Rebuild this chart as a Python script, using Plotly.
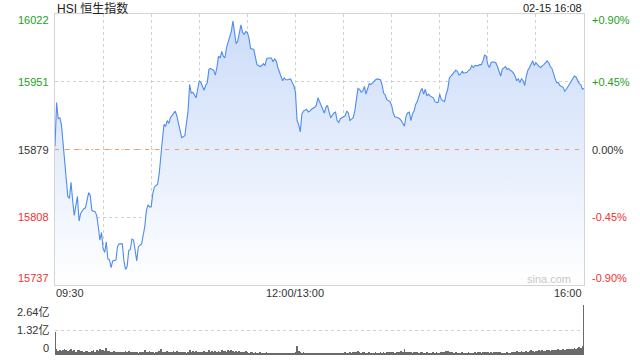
import plotly.graph_objects as go

# ---------------- data ----------------
prev_close = 15879.5
price_ticks = [16022, 15951, 15879, 15808, 15737]
pct_ticks = ["+0.90%", "+0.45%", "0.00%", "-0.45%", "-0.90%"]
time_labels = ["09:30", "12:00/13:00", "16:00"]
vol_ticks = ["2.64亿", "1.32亿", "0"]
vol_max = 2.64

times = [
    "09:30","09:31","09:32","09:33","09:34","09:35","09:36","09:38","09:39","09:40",
    "09:41","09:42","09:44","09:45","09:46","09:48","09:49","09:50","09:51","09:52",
    "09:53","09:55","09:56","09:57","09:58","09:59","10:00","10:01","10:02","10:03",
    "10:04","10:05","10:06","10:08","10:09","10:10","10:12","10:13","10:14","10:15",
    "10:16","10:17","10:18","10:19","10:21","10:22","10:23","10:24","10:26","10:27",
    "10:28","10:29","10:30","10:31","10:32","10:34","10:35","10:36","10:37","10:38",
    "10:39","10:40","10:41","10:42","10:44","10:45","10:46","10:47","10:49","10:50",
    "10:51","10:53","10:54","10:55","10:56","10:58","10:59","11:00","11:01","11:03",
    "11:04","11:05","11:06","11:07","11:09","11:10","11:11","11:12","11:13","11:14",
    "11:15","11:16","11:17","11:18","11:20","11:21","11:22","11:23","11:24","11:25",
    "11:26","11:27","11:28","11:29","11:30","11:31","11:32","11:34","11:35","11:36",
    "11:38","11:39","11:40","11:41","11:42","11:43","11:45","11:46","11:47","11:48",
    "11:49","11:50","11:52","11:53","11:54","11:55","11:57","11:58","11:59","12:00",
    "13:01","13:02","13:03","13:04","13:05","13:07","13:08","13:09","13:10","13:12",
    "13:13","13:14","13:15","13:17","13:18","13:19","13:20","13:21","13:22","13:24",
    "13:25","13:26","13:27","13:28","13:29","13:31","13:32","13:33","13:34","13:36",
    "13:37","13:38","13:39","13:40","13:41","13:42","13:43","13:44","13:46","13:47",
    "13:49","13:50","13:51","13:53","13:54","13:55","13:56","13:57","13:59","14:00",
    "14:01","14:02","14:04","14:05","14:06","14:07","14:08","14:09","14:10","14:11",
    "14:12","14:13","14:14","14:15","14:16","14:18","14:19","14:20","14:21","14:22",
    "14:23","14:24","14:26","14:27","14:28","14:29","14:30","14:31","14:33","14:34",
    "14:35","14:36","14:37","14:39","14:40","14:41","14:42","14:43","14:44","14:45",
    "14:47","14:48","14:49","14:50","14:51","14:52","14:54","14:55","14:56","14:57",
    "14:58","14:59","15:00","15:01","15:02","15:03","15:05","15:06","15:07","15:08",
    "15:09","15:10","15:11","15:12","15:13","15:14","15:15","15:16","15:17","15:18",
    "15:19","15:20","15:21","15:22","15:23","15:24","15:25","15:26","15:27","15:28",
    "15:29","15:30","15:32","15:33","15:34","15:35","15:37","15:38","15:39","15:40",
    "15:42","15:43","15:44","15:45","15:47","15:48","15:49","15:50","15:51","15:52",
    "15:54","15:55","15:56","15:57","15:58","15:59","16:00",
]
prices = [
    15883,15929,15912,15913,15906,15885,15868,15830,15828,15845,
    15826,15810,15830,15804,15812,15817,15818,15826,15834,15831,
    15815,15814,15810,15798,15784,15792,15775,15771,15782,15764,
    15763,15755,15762,15763,15777,15780,15780,15762,15753,15756,
    15773,15774,15785,15784,15762,15777,15779,15780,15798,15815,
    15821,15819,15819,15833,15840,15843,15854,15875,15890,15906,
    15904,15910,15907,15913,15918,15920,15915,15906,15892,15893,
    15894,15920,15948,15939,15940,15934,15943,15952,15950,15942,
    15947,15950,15964,15965,15963,15958,15966,15978,15976,15983,
    15978,15976,15987,15993,16004,16015,16001,15991,15994,16004,
    16011,16003,16001,16004,16003,15997,15986,15985,15976,15969,
    15967,15968,15970,15968,15975,15976,15976,15972,15975,15973,
    15966,15961,15952,15955,15953,15953,15954,15950,15947,15940,
    15910,15906,15898,15917,15920,15922,15919,15920,15922,15924,
    15926,15934,15930,15921,15918,15924,15926,15919,15913,15918,
    15919,15910,15908,15912,15913,15915,15920,15918,15910,15913,
    15920,15933,15944,15943,15940,15941,15946,15938,15949,15948,
    15952,15953,15954,15953,15948,15939,15937,15932,15930,15926,
    15918,15914,15913,15912,15910,15907,15904,15915,15918,15919,
    15910,15917,15920,15927,15930,15941,15944,15938,15943,15936,
    15938,15936,15934,15930,15929,15929,15938,15932,15930,15938,
    15943,15955,15957,15961,15963,15962,15958,15959,15962,15960,
    15961,15963,15964,15968,15966,15968,15968,15969,15969,15973,
    15979,15978,15969,15966,15971,15972,15971,15967,15962,15957,
    15964,15966,15967,15964,15965,15963,15962,15960,15957,15952,
    15954,15950,15954,15952,15947,15957,15963,15966,15969,15973,
    15968,15971,15967,15966,15968,15969,15973,15971,15967,15965,
    15954,15950,15950,15947,15945,15941,15943,15946,15948,15952,
    15957,15956,15952,15949,15948,15943,15944,
]

# volume per trading minute (亿), 09:30..12:00 then 13:01..16:00
volumes = [
    1.20,0.30,0.22,0.28,0.20,0.26,0.32,0.24,0.20,0.28,
    0.30,0.22,0.26,0.18,0.24,0.28,0.20,0.22,0.18,0.20,
    0.22,0.18,0.16,0.20,0.24,0.18,0.28,0.22,0.30,0.26,
    0.24,0.20,0.36,0.22,0.20,0.18,0.16,0.20,0.14,0.18,
    0.16,0.14,0.18,0.15,0.20,0.16,0.22,0.14,0.16,0.18,
    0.14,0.16,0.12,0.18,0.16,0.14,0.26,0.18,0.16,0.20,
    0.14,0.16,0.12,0.15,0.18,0.22,0.30,0.16,0.18,0.14,
    0.20,0.16,0.14,0.18,0.22,0.16,0.20,0.14,0.18,0.16,
    0.14,0.18,0.12,0.16,0.26,0.14,0.20,0.18,0.22,0.16,
    0.14,0.18,0.16,0.20,0.14,0.18,0.24,0.16,0.20,0.18,
    0.22,0.16,0.20,0.18,0.24,0.20,0.22,0.18,0.26,0.20,
    0.24,0.22,0.18,0.20,0.16,0.22,0.18,0.14,0.16,0.20,
    0.18,0.12,0.14,0.16,0.12,0.14,0.10,0.12,0.14,0.10,
    0.12,0.10,0.14,0.12,0.10,0.12,0.08,0.10,0.12,0.10,
    0.08,0.10,0.12,0.08,0.10,0.09,0.11,0.08,0.10,0.12,
    0.14,
    0.50,0.22,0.16,0.12,0.14,0.10,0.12,0.10,0.08,0.10,
    0.12,0.10,0.08,0.10,0.12,0.09,0.10,0.08,0.12,0.10,
    0.10,0.12,0.08,0.10,0.09,0.11,0.08,0.10,0.12,0.10,
    0.14,0.10,0.12,0.16,0.12,0.14,0.18,0.16,0.20,0.14,
    0.12,0.16,0.14,0.12,0.10,0.14,0.12,0.10,0.12,0.14,
    0.12,0.10,0.14,0.12,0.16,0.12,0.14,0.18,0.14,0.16,
    0.14,0.12,0.16,0.18,0.14,0.22,0.16,0.30,0.14,0.18,
    0.16,0.14,0.12,0.16,0.18,0.14,0.12,0.16,0.14,0.12,
    0.10,0.14,0.12,0.10,0.12,0.16,0.12,0.14,0.10,0.12,
    0.14,0.18,0.16,0.22,0.20,0.18,0.14,0.16,0.12,0.14,
    0.12,0.10,0.12,0.14,0.10,0.12,0.10,0.14,0.12,0.10,
    0.12,0.14,0.12,0.16,0.14,0.12,0.14,0.16,0.18,0.14,
    0.12,0.14,0.12,0.16,0.14,0.18,0.16,0.14,0.12,0.10,
    0.12,0.14,0.10,0.12,0.14,0.16,0.18,0.20,0.16,0.18,
    0.20,0.16,0.18,0.22,0.18,0.20,0.24,0.20,0.18,0.22,
    0.20,0.24,0.22,0.26,0.22,0.20,0.24,0.28,0.22,0.26,
    0.24,0.28,0.26,0.30,0.26,0.28,0.32,0.26,0.30,0.34,
    0.30,0.34,0.32,0.36,0.34,0.38,0.40,0.36,0.48,2.90,
]


def slot(t):
    h, m = map(int, t.split(":"))
    mins = h * 60 + m
    if mins <= 12 * 60:
        return mins - (9 * 60 + 30)
    return 150 + mins - 13 * 60


xs = [slot(t) for t in times]
vx = list(range(len(volumes)))
total_slots = 330

# ---------------- layout helpers ----------------
W, H = 640, 360
def PX(x):
    return x / W
def PY(y):
    return 1 - y / H

FONT = "Arial, 'Liberation Sans', 'Noto Sans CJK SC', sans-serif"
GREEN = "#1e9e1e"
RED = "#f23030"
DARK = "#333333"
GRID = "#d2d2d2"

lo = prev_close * 0.991
hi = prev_close * 1.009

fig = go.Figure()
fig.add_trace(go.Scatter(
    x=xs, y=prices, mode="lines",
    line=dict(color="#4f8bf0", width=1.1),
    fill="tozeroy",
    fillgradient=dict(type="vertical",
                      colorscale=[[0, "rgba(255,255,255,1)"], [1, "rgba(202,219,249,1)"]],
                      start=lo, stop=hi),
    hoverinfo="skip", xaxis="x", yaxis="y", showlegend=False,
))
fig.add_trace(go.Bar(
    x=vx, y=volumes, marker=dict(color="#6a6a6a", line=dict(width=0)),
    width=0.45, xaxis="x2", yaxis="y2", showlegend=False, hoverinfo="skip",
))

grid_vals = [prev_close * 1.0045, prev_close, prev_close * 0.9955]

fig.update_layout(
    width=W, height=H, margin=dict(l=0, r=0, t=0, b=0),
    paper_bgcolor="white", plot_bgcolor="rgba(0,0,0,0)",
    font=dict(family=FONT, size=11, color=DARK),
    bargap=0,
    xaxis=dict(domain=[PX(55), PX(584)], range=[0, total_slots],
               tickvals=list(range(0, total_slots + 1, 30)), showticklabels=False,
               showgrid=True, gridcolor=GRID, griddash="dot", gridwidth=1,
               showline=True, linecolor="#d4d4d4", linewidth=1, mirror=True,
               zeroline=False, ticks=""),
    yaxis=dict(domain=[PY(285), PY(14)], range=[lo, hi],
               tickvals=grid_vals, showticklabels=False,
               showgrid=True, gridcolor=GRID, griddash="dot", gridwidth=1,
               showline=True, linecolor="#d4d4d4", linewidth=1, mirror=True,
               zeroline=False, ticks=""),
    xaxis2=dict(domain=[PX(55), PX(584)], range=[0, total_slots], anchor="y2",
                showticklabels=False, showgrid=False, zeroline=False, ticks=""),
    yaxis2=dict(domain=[PY(355), PY(305)], range=[0, vol_max], anchor="x2",
                tickvals=[vol_max / 2, vol_max], showticklabels=False,
                showgrid=True, gridcolor=GRID, griddash="dot", gridwidth=1,
                zeroline=False, ticks=""),
)

# previous close dashed line
fig.add_shape(type="line", xref="x", yref="y", x0=0, x1=total_slots,
              y0=prev_close, y1=prev_close,
              line=dict(color="#ee9a6a", width=1, dash="4px,6px"), layer="above")

ann = []
left_colors = [GREEN, GREEN, DARK, RED, RED]
shifts = [-6, 0, 0, 0, 7]
levels = [hi, prev_close * 1.0045, prev_close, prev_close * 0.9955, lo]
for lab, pct, c, s, lv in zip(price_ticks, pct_ticks, left_colors, shifts, levels):
    ann.append(dict(text=str(lab), x=PX(51), xref="paper", xanchor="right",
                    y=lv, yref="y", yanchor="middle", yshift=s, showarrow=False,
                    font=dict(color=c, size=11, family=FONT)))
    ann.append(dict(text=pct, x=PX(590), xref="paper", xanchor="left",
                    y=lv, yref="y", yanchor="middle", yshift=s, showarrow=False,
                    font=dict(color=c, size=11, family=FONT)))

# time labels
for lab, xv, anc in zip(time_labels, [0, 150, total_slots], ["left", "center", "right"]):
    ann.append(dict(text=lab, x=xv, xref="x", xanchor=anc, xshift=(-1 if anc == "left" else 0),
                    y=PY(293), yref="paper", yanchor="middle", showarrow=False,
                    font=dict(color=DARK, size=11, family=FONT)))

# volume labels
for lab, v, s in zip(vol_ticks, [vol_max, vol_max / 2, 0], [-7, 0, 7]):
    ann.append(dict(text=lab, x=PX(51), xref="paper", xanchor="right",
                    y=v, yref="y2", yanchor="middle", yshift=s, showarrow=False,
                    font=dict(color=DARK, size=11, family=FONT)))

# titles
ann.append(dict(text="HSI 恒生指数", x=PX(55), xref="paper", xanchor="left",
                y=PY(8), yref="paper", yanchor="middle", showarrow=False,
                font=dict(color="#222222", size=12, family=FONT)))
ann.append(dict(text="02-15 16:08", x=PX(584), xref="paper", xanchor="right",
                y=PY(7.5), yref="paper", yanchor="middle", showarrow=False,
                font=dict(color="#222222", size=11, family=FONT)))
ann.append(dict(text="sina.com", x=PX(573), xref="paper", xanchor="right",
                y=PY(279), yref="paper", yanchor="middle", showarrow=False,
                font=dict(color="#c8c8c8", size=11, family=FONT)))

fig.update_layout(annotations=ann)
fig.write_html("out.html")
